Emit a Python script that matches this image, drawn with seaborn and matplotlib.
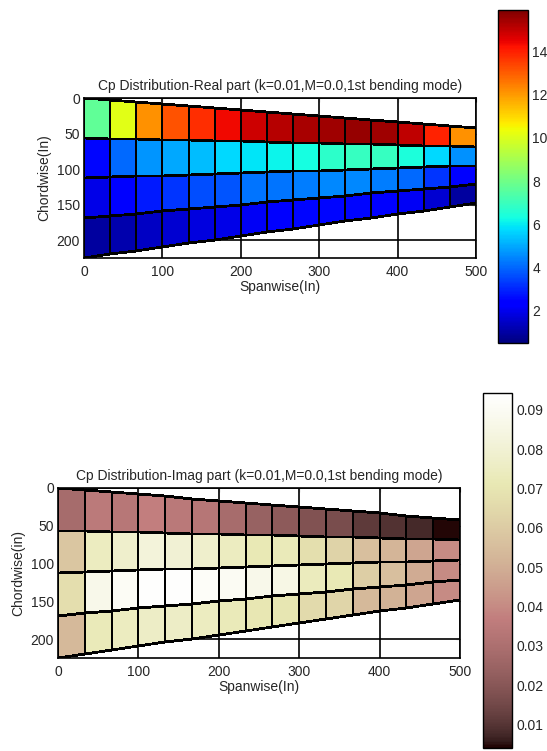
import numpy as np
import matplotlib
matplotlib.use("Agg")
import matplotlib.pyplot as plt
import seaborn as sns

# Wing planform (inches)
span_edges = np.linspace(0, 500, 16)   # 15 spanwise panels
chord_fracs = [0.0, 0.25, 0.5, 0.75, 1.0]  # 4 chordwise panels
le_root, le_tip = 0.0, 42.0
te_root, te_tip = 225.0, 148.0

# Cp, real part (rows: leading edge -> trailing edge, cols: root -> tip)
cp_real_row1 = [7.7, 10.1, 12.2, 13.2, 13.8, 14.4, 14.9, 15.2, 15.4, 15.5, 15.6, 15.5, 15.1, 14.0, 12.2]
cp_real_row2 = [2.5, 4.0, 4.7, 5.0, 5.3, 5.7, 5.9, 6.1, 6.3, 6.7, 6.9, 6.9, 6.4, 5.7, 4.6]
cp_real_row3 = [1.9, 2.3, 2.8, 3.2, 3.6, 3.7, 4.2, 4.2, 4.3, 4.5, 4.5, 4.3, 4.0, 3.2, 2.2]
cp_real_row4 = [0.9, 1.1, 1.4, 1.6, 1.8, 1.9, 2.1, 2.3, 2.5, 2.5, 2.5, 2.4, 2.1, 1.6, 0.9]

# Cp, imaginary part
cp_imag_row1 = [0.0280, 0.0350, 0.0335, 0.0370, 0.0345, 0.0330, 0.0285, 0.0240, 0.0212, 0.0184, 0.0166, 0.0112, 0.0094, 0.0076, 0.0045]
cp_imag_row2 = [0.0580, 0.0745, 0.0780, 0.0817, 0.0800, 0.0780, 0.0745, 0.0717, 0.0726, 0.0672, 0.0627, 0.0555, 0.0520, 0.0473, 0.0400]
cp_imag_row3 = [0.0670, 0.0870, 0.0907, 0.0934, 0.0935, 0.0916, 0.0898, 0.0870, 0.0853, 0.0735, 0.0717, 0.0610, 0.0555, 0.0490, 0.0400]
cp_imag_row4 = [0.0537, 0.0726, 0.0745, 0.0762, 0.0762, 0.0745, 0.0726, 0.0708, 0.0700, 0.0654, 0.0636, 0.0537, 0.0510, 0.0473, 0.0400]

real_ticks = [2, 4, 6, 8, 10, 12, 14]
imag_ticks = [0.01, 0.02, 0.03, 0.04, 0.05, 0.06, 0.07, 0.08, 0.09]

sns.set_style("white")
plt.rcParams['font.family'] = ['Liberation Sans', 'DejaVu Sans']
FS = 10

# mesh corner coordinates
le = le_root + (le_tip - le_root) * span_edges / 500.0
te = te_root + (te_tip - te_root) * span_edges / 500.0
X = np.tile(span_edges, (len(chord_fracs), 1))
Y = np.array([le + f * (te - le) for f in chord_fracs])

W, H = 547, 751
fig = plt.figure(figsize=(W / 100, H / 100), dpi=100)


def box(l, t, r, b):
    return [l / W, 1 - b / H, (r - l) / W, (b - t) / H]


def draw_panel(ax_rect, cb_rect, rows, cmap, vmin, vmax, ticks, title, ylab):
    ax = fig.add_axes(box(*ax_rect))
    C = np.array(rows)
    ax.set_axisbelow(True)
    ax.grid(True, color='black', linewidth=1.2)
    mesh = ax.pcolormesh(X, Y, C, cmap=cmap, vmin=vmin, vmax=vmax,
                         edgecolors='black', linewidth=1.3, zorder=2)
    ax.set_xlim(0, 500)
    ax.set_ylim(225, 0)
    ax.set_xticks([0, 100, 200, 300, 400, 500])
    ax.set_yticks([0, 50, 100, 150, 200])
    ax.tick_params(direction='in', length=3, width=0.8, labelsize=FS, pad=3,
                   top=True, right=True)
    ax.tick_params(axis='x', pad=5)
    for s in ax.spines.values():
        s.set_color('black')
        s.set_linewidth(1.2)
    ax.set_title(title, fontsize=FS, pad=6)
    ax.set_xlabel('Spanwise(In)', fontsize=FS, labelpad=1)
    ax.set_ylabel(ylab, fontsize=FS, labelpad=4)

    cax = fig.add_axes(box(*cb_rect))
    cb = fig.colorbar(mesh, cax=cax)
    cb.set_ticks(ticks)
    cb.ax.tick_params(direction='in', length=3, width=0.8, labelsize=FS,
                      left=True, right=True, pad=3)
    cb.outline.set_edgecolor('black')
    cb.outline.set_linewidth(1.0)
    return ax


jet = matplotlib.colormaps['jet']
pink = matplotlib.colormaps['pink']

draw_panel((84, 98, 476, 258), (498, 10, 528, 343),
           [cp_real_row1, cp_real_row2, cp_real_row3, cp_real_row4],
           jet, 0.47, 15.95, real_ticks,
           'Cp Distribution-Real part (k=0.01,M=0.0,1st bending mode)',
           'Chordwise(In)')

draw_panel((58, 488, 460, 658), (483, 393, 512, 748),
           [cp_imag_row1, cp_imag_row2, cp_imag_row3, cp_imag_row4],
           pink, 0.004, 0.0943, imag_ticks,
           'Cp Distribution-Imag part (k=0.01,M=0.0,1st bending mode)',
           'Chordwise(in)')

fig.savefig('out.png', dpi=100)
